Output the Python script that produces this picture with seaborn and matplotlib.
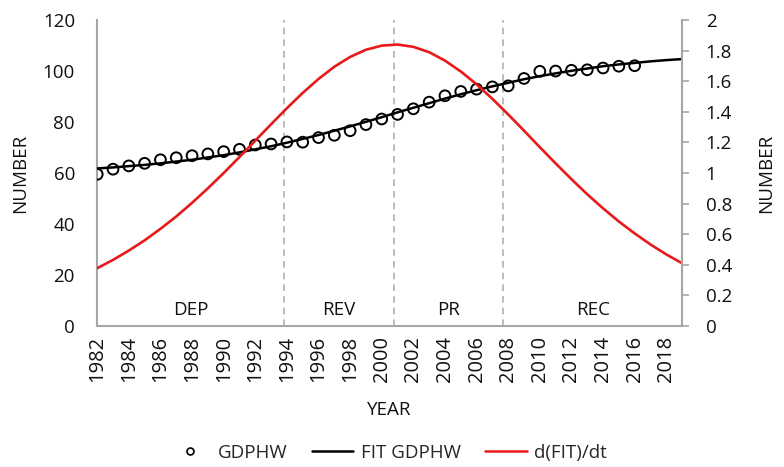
import numpy as np
import pandas as pd
import matplotlib
matplotlib.use("Agg")
import matplotlib.pyplot as plt
from matplotlib.lines import Line2D
import seaborn as sns

# ---- data ----
obs_years = list(range(1982, 2017))
gdphw = [59.5, 61.5, 62.8, 63.8, 65.2, 66.0, 66.8, 67.5, 68.4, 69.3,
         71.0, 71.4, 72.2, 72.1, 73.9, 74.8, 76.6, 79.0, 81.2, 83.0,
         85.2, 87.8, 90.3, 92.0, 92.9, 93.8, 94.2, 97.1, 99.9, 100.0,
         100.3, 100.5, 101.2, 101.9, 102.1]

fit_years = list(range(1982, 2020))
fit_gdphw = [61.8, 62.2, 62.7, 63.2, 63.8, 64.5, 65.2, 66.1, 67.0, 68.1,
             69.3, 70.5, 71.9, 73.4, 74.9, 76.6, 78.3, 80.1, 81.9, 83.8,
             85.6, 87.4, 89.2, 90.9, 92.5, 94.0, 95.4, 96.8, 98.0, 99.1,
             100.1, 101.0, 101.9, 102.6, 103.2, 103.8, 104.3, 104.7]
dfit_dt = [0.378, 0.432, 0.493, 0.560, 0.635, 0.716, 0.805, 0.900, 1.000, 1.105,
           1.212, 1.319, 1.424, 1.524, 1.615, 1.695, 1.759, 1.806, 1.833, 1.840,
           1.825, 1.790, 1.735, 1.664, 1.580, 1.485, 1.383, 1.277, 1.169, 1.063,
           0.960, 0.861, 0.769, 0.683, 0.605, 0.533, 0.468, 0.410]

phase_bounds = [1993.8, 2000.8, 2007.7]
phase_labels = ["DEP", "REV", "PR", "REC"]
phase_centers = [1987.9, 1997.3, 2004.25, 2013.35]
xtick_years = list(range(1982, 2019, 2))

obs = pd.DataFrame({"YEAR": obs_years, "GDPHW": gdphw})
fit = pd.DataFrame({"YEAR": fit_years, "FIT": fit_gdphw, "DFIT": dfit_dt})

# ---- style ----
sns.set_theme(style="white")
plt.rcParams["font.family"] = ["Open Sans", "DejaVu Sans"]
FS = 13.5
TXT = "#111111"
spine_col = "#a6a6a6"

fig = plt.figure(figsize=(7.84, 4.67), dpi=100)
ax = fig.add_axes([0.124, 0.302, 0.746, 0.655])
ax2 = ax.twinx()

# dashed phase lines
for b in phase_bounds:
    ax.axvline(b, color="#b0b0b0", linestyle=(0, (4, 3)), linewidth=1.2, zorder=1)

sns.lineplot(data=fit, x="YEAR", y="FIT", ax=ax, color="black", linewidth=1.8, zorder=3)
sns.scatterplot(data=obs, x="YEAR", y="GDPHW", ax=ax, marker="o", s=60,
                facecolor="none", edgecolor="black", linewidth=1.4, zorder=4)
sns.lineplot(data=fit, x="YEAR", y="DFIT", ax=ax2, color="#e8191a", linewidth=1.9)

for c, lab in zip(phase_centers, phase_labels):
    ax.text(c, 6.3, lab, ha="center", va="center", fontsize=FS, color=TXT)

ax.set_xlim(1982, 2019)
ax.set_ylim(0, 120)
ax2.set_ylim(0, 2)
ax.set_yticks(np.arange(0, 121, 20))
ax2.set_yticks(np.arange(0, 2.01, 0.2))
ax2.set_yticklabels(["0", "0.2", "0.4", "0.6", "0.8", "1", "1.2", "1.4", "1.6", "1.8", "2"])
ax.set_xticks(xtick_years)
ax.set_xticklabels([str(y) for y in xtick_years], rotation=90)

ax.set_xlabel("YEAR", fontsize=FS, labelpad=14, color=TXT)
ax.set_ylabel("NUMBER", fontsize=FS, labelpad=10, color=TXT)
ax2.set_ylabel("NUMBER", fontsize=FS, labelpad=18, rotation=90, color=TXT)

ax.tick_params(axis="y", labelsize=FS, colors=TXT, length=0, pad=16)
ax.tick_params(axis="x", labelsize=14.5, colors=TXT, length=0, pad=7)
ax2.tick_params(axis="y", labelsize=FS, colors=TXT, length=5, width=1.2,
                direction="out", pad=12, color=spine_col)

for a in (ax, ax2):
    a.spines["top"].set_visible(False)
    for s in ("left", "right", "bottom"):
        a.spines[s].set_color(spine_col)
        a.spines[s].set_linewidth(1.5)
ax.spines["right"].set_visible(False)
ax2.spines["left"].set_visible(False)
ax2.spines["bottom"].set_visible(False)

handles = [
    Line2D([], [], marker="o", linestyle="none", markerfacecolor="none",
           markeredgecolor="black", markersize=5, markeredgewidth=1.2),
    Line2D([], [], color="black", linewidth=1.8),
    Line2D([], [], color="#e8191a", linewidth=1.8),
]
fig.legend(handles, ["GDPHW", "FIT GDPHW", "d(FIT)/dt"], loc="center",
           bbox_to_anchor=(0.495, 0.03), ncol=3, frameon=False, fontsize=FS,
           handlelength=2.2, columnspacing=1.3, handletextpad=0.4)

fig.savefig("out.png", dpi=100)
